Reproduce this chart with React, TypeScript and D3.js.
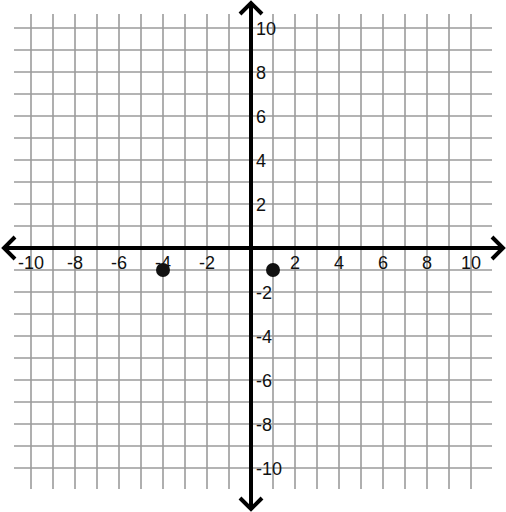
import React from "react";
import * as d3 from "d3";

const width = 506;
const height = 512;

// grid ticks and labels
const gridTicks = d3.range(-10, 11);
const xLabels = [-10, -8, -6, -4, -2, 2, 4, 6, 8, 10];
const yLabels = [10, 8, 6, 4, 2, -2, -4, -6, -8, -10];

// plotted points
const pointX = [-4, 1];
const pointY = [-1, -1];

const x = d3.scaleLinear().domain([-10, 10]).range([31, 471]);
const y = d3.scaleLinear().domain([-10, 10]).range([468, 28]);

const gridColor = "#9b9b9b";
const font = "'Liberation Sans', Arial, sans-serif";

export default function App() {
  const gx0 = 14, gx1 = 492, gy0 = 14, gy1 = 489;
  const ax0 = 3, ax1 = 504, ay0 = 2, ay1 = 510;
  const cx = x(0), cy = y(0);
  const w = 12, s = 11; // arrow wing length back / sideways

  return (
    <svg width={width} height={height} style={{ position: "absolute", left: 0, top: 0, background: "#fff" }}>
      <g stroke={gridColor} strokeWidth={1.6}>
        {gridTicks.map(t => (
          <line key={"v" + t} x1={x(t)} x2={x(t)} y1={gy0} y2={gy1} />
        ))}
        {gridTicks.map(t => (
          <line key={"h" + t} x1={gx0} x2={gx1} y1={y(t)} y2={y(t)} />
        ))}
      </g>

      <g stroke="#000" strokeWidth={4} fill="none">
        <line x1={ax0 + 2} x2={ax1 - 2} y1={cy} y2={cy} />
        <line x1={cx} x2={cx} y1={ay0 + 2} y2={ay1 - 2} />
        <polyline points={`${ax0 + w},${cy - s} ${ax0 + 1},${cy} ${ax0 + w},${cy + s}`} strokeLinejoin="miter" />
        <polyline points={`${ax1 - w},${cy - s} ${ax1 - 1},${cy} ${ax1 - w},${cy + s}`} strokeLinejoin="miter" />
        <polyline points={`${cx - s},${ay0 + w} ${cx},${ay0 + 1} ${cx + s},${ay0 + w}`} strokeLinejoin="miter" />
        <polyline points={`${cx - s},${ay1 - w} ${cx},${ay1 - 1} ${cx + s},${ay1 - w}`} strokeLinejoin="miter" />
      </g>

      <g fontFamily={font} fontSize={18} fill="#111">
        {xLabels.map(v => (
          <text key={"xl" + v} x={x(v)} y={cy + 21} textAnchor="middle">{v}</text>
        ))}
        {yLabels.map(v => (
          <text key={"yl" + v} x={cx + 5} y={y(v) + 1} dominantBaseline="central">{v}</text>
        ))}
      </g>

      <g fill="#111">
        {pointX.map((px, i) => (
          <circle key={"p" + i} cx={x(px)} cy={y(pointY[i])} r={7} />
        ))}
      </g>
    </svg>
  );
}
